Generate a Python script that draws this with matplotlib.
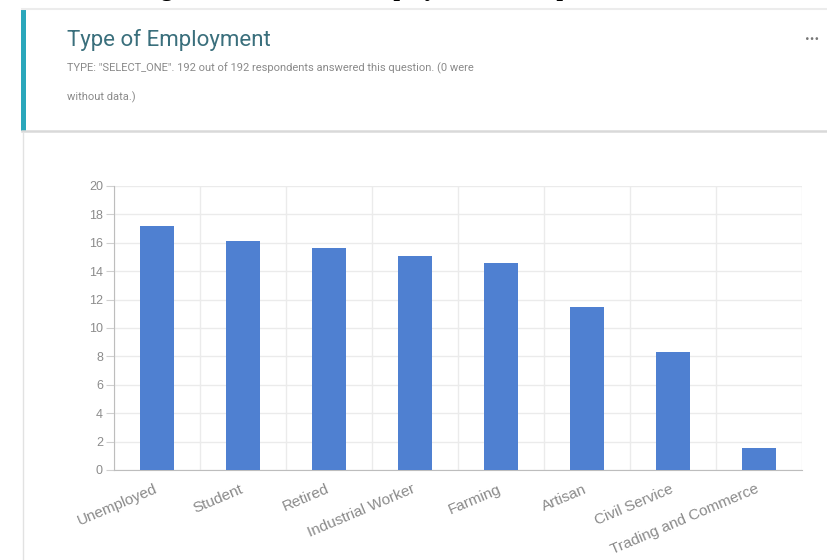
import matplotlib.pyplot as plt
from matplotlib.patches import Rectangle
from matplotlib.lines import Line2D

categories = ['Unemployed', 'Student', 'Retired', 'Industrial Worker',
              'Farming', 'Artisan', 'Civil Service', 'Trading and Commerce']
counts = [33, 31, 30, 29, 28, 22, 16, 3]
total = 192
percent = [c / total * 100 for c in counts]
y_ticks = list(range(0, 21, 2))

title = 'Type of Employment'
subtitle_1 = 'TYPE: "SELECT_ONE". 192 out of 192 respondents answered this question. (0 were'
subtitle_2 = 'without data.)'
caption = 'Figure 4.6: Nature of Employment of Respondents'

W, H = 828, 560
fig = plt.figure(figsize=(W / 100, H / 100), dpi=100)
fig.patch.set_facecolor('white')

def fx(px):
    return px / W

def fy(py):
    return 1 - py / H

# caption of the page, cut off at the top edge
fig.text(fx(140), fy(-4), caption, family='Liberation Serif', weight='bold',
         fontsize=17, color='black', va='baseline', ha='left')

# card frame
fig.add_artist(Line2D([fx(22), fx(828)], [fy(9), fy(9)], color='#ececec', lw=1.5))
fig.add_artist(Line2D([fx(22), fx(828)], [fy(131), fy(131)], color='#d9d9d9', lw=1.8))
fig.add_artist(Line2D([fx(23), fx(23)], [fy(132), fy(560)], color='#e2e2e2', lw=1.0))
fig.add_artist(Rectangle((fx(21), fy(131)), fx(5), (131 - 9) / H,
                         color='#2aa7bb', lw=0))

fig.text(fx(67), fy(40), title, family='Roboto', fontsize=16,
         color='#3a6f7c', va='center', ha='left')
fig.text(fx(67), fy(68), subtitle_1, family='Roboto', fontsize=8,
         color='#8a8a8a', va='center', ha='left')
fig.text(fx(67), fy(97), subtitle_2, family='Roboto', fontsize=8,
         color='#8a8a8a', va='center', ha='left')
fig.text(fx(812), fy(35), '...', family='Roboto', fontsize=12,
         color='#777777', va='center', ha='center', weight='bold')

ax = fig.add_axes([fx(114), 1 - 470 / H, (802 - 114) / W, (470 - 186) / H])
x = list(range(len(categories)))
ax.bar(x, percent, width=0.4, color='#4f80d1', zorder=3)

ax.set_xlim(-0.5, len(categories) - 0.5)
ax.set_ylim(0, 20)
ax.set_yticks(y_ticks)
ax.set_yticklabels([str(t) for t in y_ticks], family='Liberation Sans',
                   fontsize=9, color='#8c8c8c')
ax.tick_params(axis='y', length=6, color='#d0d0d0', pad=2)

# vertical grid at the category boundaries
ax.set_xticks([i - 0.5 for i in range(len(categories) + 1)], minor=True)
ax.set_xticks([])
ax.grid(axis='y', color='#ebebeb', lw=1, zorder=0)
ax.grid(axis='x', which='minor', color='#ebebeb', lw=1, zorder=0)
ax.tick_params(axis='x', which='minor', length=0)

for i, label in enumerate(categories):
    ax.text(i - 0.04, -0.85, label, rotation=23, rotation_mode='anchor',
            ha='right', va='top', family='Liberation Sans', fontsize=11,
            color='#8a8a8a')

for side in ['top', 'right']:
    ax.spines[side].set_visible(False)
ax.spines['left'].set_color('#bdbdbd')
ax.spines['bottom'].set_color('#bdbdbd')

fig.savefig('out.png', dpi=100, facecolor='white')
